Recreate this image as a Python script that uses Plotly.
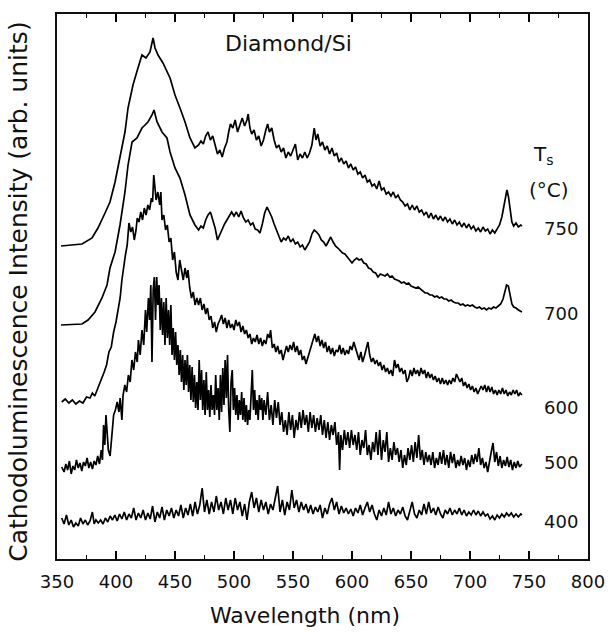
import plotly.graph_objects as go

# Wavelength (nm) and intensity (arb. units)
wl_750 = [353.4, 371.2, 379.7, 384.7, 390.7, 394.9, 399.2, 403.4, 407.6, 410.2, 414.4, 418.6, 422.0, 425.4, 428.8,
          431.4, 433.1, 435.6, 439.8, 445.8, 450.0, 454.2, 458.5, 462.7, 466.9,
          470, 472, 474, 476, 478, 480, 482, 484, 486, 488, 490, 492, 494, 495.5, 497, 499, 501, 503, 505, 507,
          509, 511, 512, 513.5, 515, 517, 519, 521, 523, 525, 527, 528.5, 530, 532, 534, 536, 538, 540, 542, 544,
          546, 548, 550, 552, 554, 556, 558, 560, 562, 564, 566, 568, 569.5, 571, 573, 575, 577, 579, 581, 583,
          585, 587, 589, 591, 593, 595, 597, 599, 601, 603, 605, 607, 609, 611, 613, 615, 617, 619, 621, 623,
          625, 627, 629, 631, 633, 635, 637, 639, 641, 643, 645, 647, 649, 651, 653, 655, 657, 659, 661, 663,
          665, 667, 669, 671, 673, 675, 677, 679, 681, 683, 685, 687, 689, 691, 693, 695, 697, 699, 701, 703,
          705, 707, 709, 711, 713, 715, 717, 719, 721, 723, 725, 727, 728.5, 730, 731.3, 732.5, 734, 735.5, 737,
          739, 741, 743, 744]
int_750 = [314, 316, 322, 332, 347, 358, 378, 402, 428, 452, 475, 492, 505, 502, 508,
           522, 512, 505, 497, 482, 465, 452, 438, 422, 412,
           415, 419, 416, 424, 428, 420, 424, 414, 406, 410, 403, 412, 418, 428, 436, 432, 440, 428, 436, 442,
           434, 440, 446, 432, 426, 430, 420, 424, 414, 420, 430, 436, 428, 432, 420, 412, 415, 408, 412, 402,
           408, 404, 410, 416, 400, 406, 402, 408, 402, 407, 415, 432, 420, 426, 414, 418, 410, 414, 406, 412,
           404, 407, 398, 402, 396, 399, 392, 396, 390, 393, 386, 388, 382, 385, 378, 380, 374, 376, 371, 379,
           370, 372, 366, 368, 364, 368, 362, 365, 360, 358, 354, 356, 350, 355, 350, 354, 348, 350, 345, 348,
           342, 347, 341, 345, 340, 344, 339, 343, 338, 341, 336, 340, 335, 338, 333, 337, 332, 336, 331, 334,
           329, 332, 328, 333, 329, 331, 326, 330, 327, 331, 335, 343, 352, 362, 370, 364, 348, 338, 334,
           337, 333, 335, 334]

wl_700 = [353.4, 371.2, 376.3, 382.2, 388.1, 392.4, 394.9, 399.2, 403.4, 407.6, 410.2, 413.6, 417.8, 422.0, 424.6,
          427.1, 430.5, 432.2, 434.8, 439.0, 443.2, 445.8, 450.0, 454.2, 458.5, 462.7, 466.9,
          470, 472, 474, 476, 478, 480, 482, 484, 486, 488, 490, 492, 494, 496, 498, 500, 502, 504, 506, 508,
          510, 512, 514, 516, 518, 520, 522, 524, 526, 528, 530, 532, 534, 536, 538, 540, 542, 544, 546, 548,
          550, 552, 554, 556, 558, 560, 562, 564, 566, 568, 570, 572, 574, 576, 578, 580, 582, 584, 586, 588,
          590, 592, 594, 596, 598, 600, 602, 604, 606, 608, 610, 612, 614, 616, 618, 620, 622, 624, 626, 628,
          630, 632, 634, 636, 638, 640, 642, 644, 646, 648, 650, 652, 654, 656, 658, 660, 662, 664, 666, 668,
          670, 672, 674, 676, 678, 680, 682, 684, 686, 688, 690, 692, 694, 696, 698, 700, 702, 704, 706, 708,
          710, 712, 714, 716, 718, 720, 722, 724, 726, 728, 729.5, 731, 732.5, 734, 735.5, 737, 739, 741, 743, 744]
int_700 = [235, 236, 240, 248, 262, 275, 292, 308, 335, 368, 395, 418, 422, 432, 435,
           438, 445, 450, 438, 428, 422, 408, 392, 382, 365, 345, 335,
           330, 334, 332, 340, 345, 348, 340, 332, 320, 326, 332, 336, 340, 344, 348, 344, 348, 343, 349, 342,
           338, 340, 335, 337, 331, 330, 327, 336, 347, 353, 348, 343, 336, 330, 324, 318, 322, 320, 324, 318,
           321, 316, 318, 313, 315, 310, 314, 318, 326, 330, 328, 325, 320, 318, 314, 318, 323, 318, 314, 312,
           309, 307, 306, 303, 300, 297, 300, 302, 300, 301, 297, 296, 292, 291, 288, 287, 283, 286, 285, 284,
           286, 283, 284, 281, 280, 279, 277, 278, 276, 277, 274, 273, 272, 273, 271, 269, 267, 267, 265, 265,
           263, 264, 262, 263, 261, 261, 259, 260, 258, 257, 257, 255, 256, 254, 255, 254, 255, 253, 252, 253,
           251, 252, 250, 252, 251, 253, 252, 254, 256, 261, 268, 275, 274, 263, 256, 253, 252, 250, 249, 248]

wl_600 = [354, 357, 360, 363, 366, 369, 372, 375, 378, 380, 382, 384, 386, 388, 390, 392, 394, 396, 398, 400,
          402, 403.5, 405, 406.5, 408, 409.5, 411, 412.5, 414, 415.5, 417, 418, 419.5, 421, 422.5, 424, 425.5,
          427, 428.5, 430, 431, 432, 433, 434, 435.5, 437, 438, 439, 440.5, 442, 443.5, 445, 446.5, 448, 449.5,
          451, 452.5, 454, 455.5, 457, 458.5, 460, 461, 462.5, 464, 465.5, 467, 468.5, 470, 471.5, 473, 474.5,
          476, 477.5, 479, 480.5, 482, 483.5, 485, 486.5, 488, 489.5, 491, 492.5, 494, 495.5, 497, 498.5, 500,
          501.5, 503, 504.5, 506, 507.5, 509, 510.5, 512, 513.5, 515, 516.5, 518, 519.5, 521, 522.5, 524, 525.5,
          527, 528.5, 530, 531, 532.5, 534, 535.5, 537, 538.5, 540, 541.5, 543, 544.5, 546, 547.5, 549, 550.5,
          552, 553.5, 555, 556.5, 558, 559.5, 561, 562.5, 564, 565.5, 567, 568.5, 570, 571.5, 573, 574.5, 576,
          577.5, 579, 580.5, 582, 583.5, 585, 586.5, 588, 589.5, 591, 592.5, 594, 595.5, 597, 598.5, 600, 601.5,
          603, 604.5, 606, 607.5, 609, 610.5, 612, 613.5, 615, 616.5, 618, 619.5, 621, 622.5, 624, 625.5, 627,
          628.5, 630, 631.5, 633, 634.5, 636, 637.5, 639, 640.5, 642, 643.5, 645, 646.5, 648, 649.5, 651, 652.5,
          654, 655.5, 657, 658.5, 660, 661.5, 663, 664.5, 666, 667.5, 669, 670.5, 672, 673.5, 675, 676.5, 678,
          679.5, 681, 682.5, 684, 685.5, 687, 688.5, 690, 691.5, 693, 694.5, 696, 697.5, 699, 700.5, 702, 703.5,
          705, 706.5, 708, 709.5, 711, 712.5, 714, 715.5, 717, 718.5, 720, 721.5, 723, 724.5, 726, 727.5, 729,
          730.5, 732, 733.5, 735, 736.5, 738, 739.5, 741, 742.5, 744]
int_600 = [158, 161, 157, 160, 156, 159, 157, 163, 162, 167, 164, 170, 175, 180, 188, 195, 208, 213, 228, 238,
           250, 262, 280, 295, 305, 315, 337, 328, 333, 320, 330, 342, 338, 348, 340, 352, 345,
           355, 350, 362, 358, 385, 368, 360, 368, 355, 368, 340, 345, 330, 335, 318, 322, 300, 308,
           288, 280, 300, 290, 280, 292, 282, 290, 272, 262, 268, 255, 262, 255, 262, 250, 256,
           246, 252, 240, 244, 232, 238, 228, 236, 240, 245, 236, 242, 232, 240, 232, 236, 230,
           240, 234, 238, 228, 234, 226, 230, 222, 226, 216, 222, 218, 225, 216, 222, 214, 220,
           216, 226, 222, 230, 212, 216, 208, 214, 206, 210, 200, 206, 214, 208, 215, 210, 218,
           208, 214, 205, 210, 200, 204, 196, 202, 208, 215, 222, 226, 218, 224, 214, 220, 212,
           218, 208, 214, 206, 212, 204, 210, 208, 215, 206, 212, 205, 210, 206, 214, 210, 218,
           212, 206, 200, 208, 198, 204, 210, 218, 205, 198, 202, 196, 200, 194, 198, 190, 195,
           188, 192, 186, 190, 184, 200, 192, 196, 188, 192, 186, 190, 178, 182, 190, 184, 192,
           186, 190, 184, 192, 186, 190, 182, 188, 182, 186, 180, 184, 178, 182, 176, 182, 176,
           180, 175, 180, 176, 182, 178, 186, 182, 178, 182, 174, 178, 172, 176, 170, 174, 168,
           172, 166, 170, 174, 170, 175, 168, 174, 168, 173, 166, 170, 165, 170, 166, 172, 166,
           170, 164, 168, 165, 170, 166, 170, 164, 167, 165]

wl_500 = [354, 356, 357.5, 359, 360.5, 362, 363.5, 365, 366.5, 368, 369.5, 371, 372.5, 374, 375.5, 377, 378.5,
          380, 381.5, 383, 384.5, 386, 387.5, 388.5, 389.5, 390.5, 391.5, 392.5, 393.5, 395, 396.5, 398, 399.5,
          401, 402.5, 403.5, 405, 406, 407.5, 409, 410.5, 412, 413.5, 415, 416.5, 418, 419, 420.5, 422, 423.5,
          425, 426, 427.5, 428.5, 429.5, 430.5, 431.5, 432.5, 433.5, 434.5, 435.5, 436.5, 437.5, 438.5, 439.5,
          440.5, 441.5, 442.5, 443.5, 444.5, 445.5, 446.5, 447.5, 448.5, 449.5, 450.5, 451.5, 452.5, 453.5,
          454.5, 455.5, 456.5, 457.5, 458.5, 459.5, 460.5, 461.5, 462.5, 463.5, 464.5, 465.5, 466.5, 467.5,
          468.5, 469.5, 470.5, 471.5, 472.5, 473.5, 474.5, 475.5, 476.5, 477.5, 478.5, 479.5, 480.5, 481.5,
          482.5, 483.5, 484.5, 485.5, 486.5, 487.5, 488.5, 489.5, 490.5, 491.5, 492.5, 493.5, 494.5, 495.5,
          496.5, 497.5, 498.5, 499.5, 500.5, 501.5, 502.5, 503.5, 504.5, 505.5, 506.5, 507.5, 508.5, 509.5,
          510.5, 511.5, 512.5, 513.5, 514.5, 515.5, 516.5, 517.5, 518.5, 519.5, 520.5, 521.5, 522.5, 523.5,
          524.5, 525.5, 527, 528.5, 530, 531.5, 533, 534.5, 536, 537.5, 539, 540.5, 542, 543.5, 545, 546.5, 548,
          549.5, 551, 552.5, 554, 555.5, 557, 558.5, 560, 561.5, 563, 564.5, 566, 567.5, 569, 570.5, 572, 573.5,
          575, 576.5, 578, 579.5, 581, 582.5, 584, 585.5, 587, 588.5, 589.5, 590.5, 592, 593.5, 595, 596.5, 598,
          599.5, 601, 602.5, 604, 605.5, 607, 608.5, 610, 611.5, 613, 614.5, 616, 617.5, 619, 620.5, 622, 623.5,
          625, 626.5, 628, 629.5, 631, 632.5, 634, 635.5, 637, 638.5, 640, 641.5, 643, 644.5, 646, 647.5, 649,
          650.5, 652, 653.5, 655, 656.5, 658, 659.5, 661, 662.5, 664, 665.5, 667, 668.5, 670, 671.5, 673, 674.5,
          676, 677.5, 679, 680.5, 682, 683.5, 685, 686.5, 688, 689.5, 691, 692.5, 694, 695.5, 697, 698.5, 700,
          701.5, 703, 704.5, 706, 707.5, 709, 710.5, 712, 713.5, 715, 716.5, 718, 719.5, 721, 722.5, 724, 725.5,
          727, 728.5, 730, 731.5, 733, 734.5, 736, 737.5, 739, 740.5, 742, 744]
int_500 = [93, 88, 96, 90, 99, 86, 94, 90, 100, 92, 97, 89, 98, 94, 102, 92, 98,
           91, 99, 95, 104, 96, 110, 100, 135, 115, 145, 120, 110, 104, 128, 145, 150,
           158, 148, 162, 140, 165, 175, 168, 185, 178, 200, 190, 208, 198, 220, 205, 230, 215,
           250, 228, 262, 240, 275, 198, 270, 283, 240, 283, 255, 275, 230, 262, 225,
           258, 215, 262, 222, 250, 215, 255, 205, 232, 200, 228, 195, 215, 185,
           210, 178, 205, 170, 200, 175, 205, 168, 195, 160, 193, 158, 185, 152,
           178, 150, 200, 160, 190, 150, 180, 145, 188, 150, 170, 143, 175, 150,
           165, 145, 185, 150, 172, 140, 185, 148, 192, 155, 200, 162, 205, 150,
           128, 178, 190, 150, 172, 145, 165, 140, 160, 145, 168, 140, 162, 138,
           155, 135, 150, 140, 160, 190, 150, 170, 145, 160, 140, 165, 150, 162,
           140, 160, 145, 168, 140, 155, 135, 160, 142, 158, 135, 148, 128, 140, 125, 148, 130,
           145, 122, 140, 130, 148, 132, 150, 135, 145, 128, 148, 132, 145, 128, 142, 130, 145,
           125, 140, 122, 138, 120, 135, 125, 138, 115, 128, 90, 125, 110, 130, 115, 128, 112,
           130, 115, 125, 110, 128, 105, 120, 112, 130, 105, 115, 100, 118, 108, 128, 105, 130,
           100, 120, 108, 128, 98, 112, 100, 118, 105, 112, 98, 110, 92, 105, 95, 112, 100,
           115, 98, 118, 102, 125, 100, 110, 95, 108, 98, 105, 95, 108, 92, 102, 95, 108,
           96, 110, 95, 105, 92, 108, 97, 106, 92, 100, 94, 104, 95, 102, 90, 100, 93,
           105, 96, 106, 98, 112, 95, 102, 92, 98, 88, 100, 108, 117, 98, 108, 94, 104,
           92, 100, 94, 103, 93, 100, 90, 98, 92, 99, 93, 96]

wl_400 = [354, 356, 358, 360, 362, 364, 366, 368, 370, 372, 374, 376, 378, 380, 381.5, 383, 385, 387, 389, 391,
          393, 395, 397, 399, 401, 403, 405, 407, 409, 411, 413, 415, 417, 419, 421, 423, 425, 427, 429, 431,
          433, 435, 437, 439, 441, 443, 445, 447, 449, 451, 453, 455, 457, 459, 461, 463, 465, 467, 469, 471,
          473, 475, 477, 479, 481, 483, 485, 487, 489, 491, 493, 495, 497, 499, 501, 503, 505, 507, 509, 511,
          513, 515, 517, 519, 521, 523, 525, 527, 529, 531, 533, 535, 537, 539, 541, 543, 545, 547, 549, 551,
          553, 555, 557, 559, 561, 563, 565, 567, 569, 571, 573, 575, 577, 579, 581, 583, 585, 587, 589, 591,
          593, 595, 597, 599, 601, 603, 605, 607, 609, 611, 613, 615, 617, 619, 621, 623, 625, 627, 629, 631,
          633, 635, 637, 639, 641, 643, 645, 647, 649, 651, 653, 655, 657, 659, 661, 663, 665, 667, 669, 671,
          673, 675, 677, 679, 681, 683, 685, 687, 689, 691, 693, 695, 697, 699, 701, 703, 705, 707, 709, 711,
          713, 715, 717, 719, 721, 723, 725, 727, 729, 731, 733, 735, 737, 739, 741, 743, 744]
int_400 = [42, 36, 45, 35, 40, 33, 37, 34, 42, 36, 40, 35, 39, 48, 36, 40, 37, 40, 36, 42,
           38, 44, 40, 45, 39, 46, 41, 48, 40, 46, 42, 52, 40, 47, 42, 50, 40, 47, 41, 54,
           38, 48, 42, 53, 40, 50, 44, 52, 42, 50, 44, 55, 42, 52, 45, 56, 44, 58, 46, 55,
           72, 48, 60, 46, 58, 48, 64, 50, 58, 46, 62, 50, 60, 46, 62, 50, 58, 44, 56, 40,
           58, 68, 52, 62, 48, 60, 50, 58, 46, 56, 50, 62, 74, 48, 60, 45, 58, 50, 70, 52,
           60, 48, 58, 50, 56, 47, 55, 46, 53, 48, 55, 42, 52, 46, 56, 62, 50, 58, 46, 54,
           47, 52, 46, 51, 44, 52, 47, 55, 45, 52, 58, 48, 55, 46, 40, 50, 44, 52, 45, 58,
           46, 52, 44, 50, 46, 53, 44, 40, 50, 58, 46, 42, 50, 45, 56, 46, 58, 47, 52, 45,
           53, 46, 42, 50, 46, 52, 45, 50, 46, 52, 45, 50, 44, 48, 45, 50, 45, 49, 44, 48,
           44, 46, 41, 44, 40, 45, 42, 46, 43, 47, 44, 47, 43, 46, 43, 46, 45]

temps = ["750", "700", "600", "500", "400"]
label_y = [332, 247, 153, 98, 39]

series = [(wl_750, int_750), (wl_700, int_700), (wl_600, int_600), (wl_500, int_500), (wl_400, int_400)]

FONT = "DejaVu Sans"
INK = "#111111"

fig = go.Figure()
for (wl, it), t in zip(series, temps):
    fig.add_trace(go.Scatter(x=wl, y=it, mode="lines", name=t,
                             line=dict(color="black", width=1.7), showlegend=False))

annotations = []
for t, ly in zip(temps, label_y):
    annotations.append(dict(x=761, y=ly, xref="x", yref="y", text=t, showarrow=False,
                            xanchor="left", yanchor="middle", font=dict(family=FONT, size=18, color=INK)))
annotations += [
    dict(x=762, y=405, xref="x", yref="y", text="T<sub>s</sub>", showarrow=False, xanchor="center",
         yanchor="middle", font=dict(family=FONT, size=20, color=INK)),
    dict(x=767, y=370, xref="x", yref="y", text="(°C)", showarrow=False, xanchor="center",
         yanchor="middle", font=dict(family=FONT, size=20, color=INK)),
    dict(x=546, y=517, xref="x", yref="y", text="Diamond/Si", showarrow=False, xanchor="center",
         yanchor="middle", font=dict(family=FONT, size=22, color=INK)),
    dict(x=-0.072, y=0.49, xref="paper", yref="paper", text="Cathodoluminescence Intensity (arb. units)",
         textangle=-90, showarrow=False, xanchor="center", yanchor="middle",
         font=dict(family=FONT, size=25, color=INK)),
    dict(x=0.467, y=-0.103, xref="paper", yref="paper", text="Wavelength (nm)", showarrow=False,
         xanchor="center", yanchor="middle", font=dict(family=FONT, size=22, color=INK)),
]

fig.update_layout(
    width=609, height=635,
    margin=dict(l=57, r=21, t=14, b=76),
    paper_bgcolor="white", plot_bgcolor="rgba(0,0,0,0)",
    template="none",
    annotations=annotations,
    xaxis=dict(range=[350, 800], tickmode="linear", dtick=50, tick0=350, ticks="inside", ticklen=8,
               tickwidth=1.5, tickcolor="black", showline=True, linecolor=INK, linewidth=1.5,
               mirror="allticks", showgrid=False, zeroline=False, layer="above traces",
               ticklabelstandoff=6,
               tickfont=dict(family=FONT, size=18, color=INK),
               minor=dict(ticks="inside", ticklen=4, tickwidth=1.3, tickcolor="black",
                          dtick=25, tick0=350, showgrid=False)),
    yaxis=dict(range=[1, 546], showticklabels=False, ticks="", showline=True, linecolor=INK,
               linewidth=1.5, mirror=True, showgrid=False, zeroline=False),
)

fig.write_html("out.html")
